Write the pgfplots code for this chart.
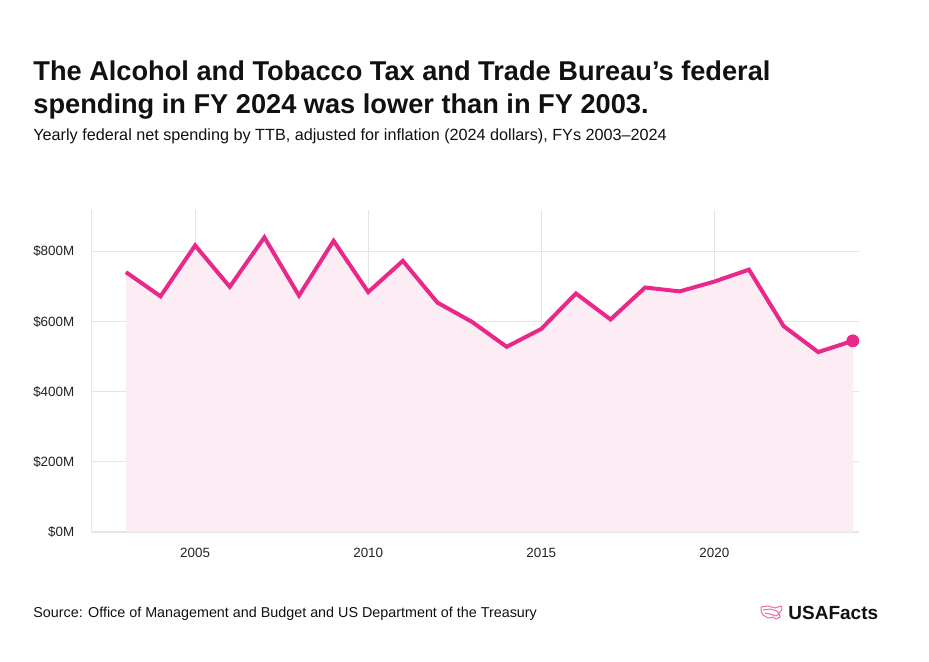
\documentclass[border=0pt]{standalone}
\usepackage{fontspec}
\setmainfont{Liberation Sans}
\usepackage{pgfplots}
\pgfplotsset{compat=1.18}
\definecolor{pinkline}{HTML}{E8298A}
\definecolor{pinkfill}{HTML}{FCEDF4}
\definecolor{gridc}{HTML}{E8E4E6}
\definecolor{txt}{HTML}{111111}
\definecolor{ticktxt}{HTML}{222222}
\begin{document}
\begin{tikzpicture}[x=0.5pt,y=0.5pt]
\path[fill=white,use as bounding box] (0,0) rectangle (929,661);
\node[anchor=base west, inner sep=0, text=txt, font=\fontsize{13.6}{16}\selectfont\bfseries] at (33,581) {The Alcohol and Tobacco Tax and Trade Bureau’s federal};
\node[anchor=base west, inner sep=0, text=txt, font=\fontsize{13.6}{16}\selectfont\bfseries] at (33,548) {spending in FY 2024 was lower than in FY 2003.};
\node[anchor=base west, inner sep=0, text=txt, font=\fontsize{8.1}{9}\selectfont] at (33,521) {Yearly federal net spending by TTB, adjusted for inflation (2024 dollars), FYs 2003–2024};
\node[anchor=base west, inner sep=0, text=txt, font=\fontsize{7.17}{9}\selectfont] at (33,44) {Source: Office of Management and Budget and US Department of the Treasury};
\node[anchor=west, inner sep=0, text=txt, font=\fontsize{9.5}{11}\selectfont\bfseries] at (788,48) {USAFacts};
\draw[pinkline!70, line width=0.5pt, line join=round] (761,54) -- (768,55) -- (775,53) -- (781,55) -- (782,51) -- (779,48) -- (780,44) -- (776,42) -- (773,44) -- (768,43) -- (763,46) -- (761,50) -- cycle;
\draw[pinkline!70, line width=0.5pt, line join=round] (763,51) -- (770,52) -- (777,50) -- (779,47) -- (776,45) -- (770,47) -- (765,48);
\begin{axis}[
  at={(45.65pt,64.5pt)}, anchor=south west, scale only axis,
  width=383.7pt, height=161pt,
  xmin=2002, xmax=2024.17, ymin=0, ymax=918,
  axis lines*=left,
  axis line style={draw=gridc, line width=0.6pt},
  grid=major, grid style={draw=gridc, line width=0.6pt},
  major tick length=0pt,
  xtick={2005,2010,2015,2020},
  xticklabels={2005,2010,2015,2020},
  ytick={0,200,400,600,800},
  yticklabels={\$0M,\$200M,\$400M,\$600M,\$800M},
  /pgf/number format/assume math mode=true,
  ticklabel style={font=\fontsize{6.7}{8}\selectfont, text=ticktxt},
  yticklabel style={xshift=-5pt},
  xticklabel style={yshift=-4.5pt},
  clip=false,
]
\addplot[fill=pinkfill, draw=none] coordinates {
(2003,741)(2004,672)(2005,817)(2006,699)(2007,840)(2008,674)(2009,830)(2010,684)(2011,773)(2012,654)(2013,599)(2014,528)(2015,579)(2016,680)(2017,606)(2018,697)(2019,686)(2020,714)(2021,748)(2022,587)(2023,513)(2024,545)
} \closedcycle;
\addplot[pinkline, line width=2pt, line join=miter, mark=none] coordinates {
(2003,741)(2004,672)(2005,817)(2006,699)(2007,840)(2008,674)(2009,830)(2010,684)(2011,773)(2012,654)(2013,599)(2014,528)(2015,579)(2016,680)(2017,606)(2018,697)(2019,686)(2020,714)(2021,748)(2022,587)(2023,513)(2024,545)
};
\addplot[pinkline, only marks, mark=*, mark size=3pt, mark options={draw=pinkline, fill=pinkline}] coordinates {(2024,545)};
\end{axis}
\end{tikzpicture}
\end{document}
